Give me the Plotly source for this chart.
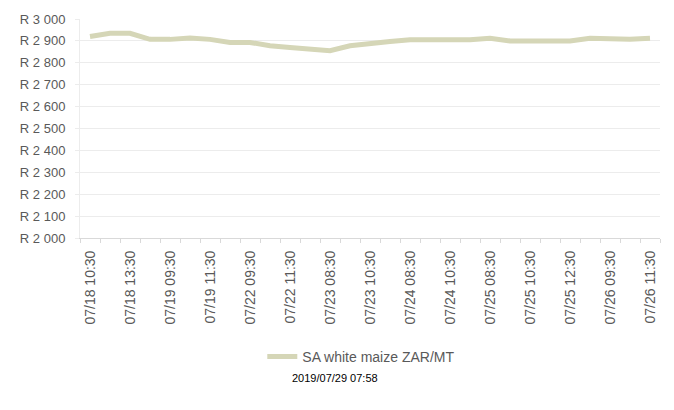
import plotly.graph_objects as go

categories = [
    "07/18 10:30", "07/18 12:00", "07/18 13:30", "07/19 08:30", "07/19 09:30",
    "07/19 10:30", "07/19 11:30", "07/22 08:30", "07/22 09:30", "07/22 10:30",
    "07/22 11:30", "07/22 12:30", "07/23 08:30", "07/23 09:30", "07/23 10:30",
    "07/23 11:30", "07/24 08:30", "07/24 09:30", "07/24 10:30", "07/24 11:30",
    "07/25 08:30", "07/25 09:30", "07/25 10:30", "07/25 11:30", "07/25 12:30",
    "07/26 08:30", "07/26 09:30", "07/26 10:30", "07/26 11:30",
]
values = [
    2920, 2935, 2935, 2907, 2907, 2913, 2907, 2893, 2893, 2878,
    2870, 2863, 2855, 2878, 2890, 2897, 2905, 2905, 2905, 2905,
    2912, 2900, 2900, 2900, 2900, 2912, 2907, 2907, 2912,
]
series_name = "SA white maize ZAR/MT"
y_ticks = [2000, 2100, 2200, 2300, 2400, 2500, 2600, 2700, 2800, 2900, 3000]
y_ticktext = ["R 2 000", "R 2 100", "R 2 200", "R 2 300", "R 2 400", "R 2 500",
              "R 2 600", "R 2 700", "R 2 800", "R 2 900", "R 3 000"]
footer = "2019/07/29 07:58"

idx = list(range(len(categories)))
label_idx = idx[::2]

fig = go.Figure()
fig.add_trace(go.Scatter(
    x=idx, y=values, mode="lines", name=series_name,
    line=dict(color="#d5d6b7", width=5),
))

grid = "#ececec"
fig.update_layout(
    width=674, height=410,
    margin=dict(l=80, r=14, t=17, b=172),
    paper_bgcolor="white", plot_bgcolor="white",
    showlegend=True,
    legend=dict(orientation="h", x=0.485, xanchor="center", y=-0.47, yanchor="top",
                font=dict(family="Liberation Sans, sans-serif",
                          size=14, color="#595959")),
    xaxis=dict(
        range=[-0.5, len(categories) - 0.5],
        tickmode="array", tickvals=label_idx,
        ticktext=[categories[i] for i in label_idx],
        tickangle=-90, ticks="", ticklabelstandoff=6,
        tickfont=dict(family="Liberation Sans, Arial, sans-serif", size=14, color="#595959"),
        showgrid=False, zeroline=False,
        showline=True, linecolor="#d9d9d9", linewidth=1,
        minor=dict(ticks="outside", tick0=-0.5, dtick=1, ticklen=4,
                   tickcolor="#d9d9d9", showgrid=False),
    ),
    yaxis=dict(
        range=[2000, 3000],
        tickmode="array", tickvals=y_ticks, ticktext=y_ticktext,
        tickfont=dict(family="Liberation Sans, sans-serif",
                      size=13, color="#595959"),
        showgrid=True, gridcolor=grid, gridwidth=1,
        ticks="outside", ticklen=4, tickcolor=grid, ticklabelstandoff=7,
        showline=True, linecolor=grid, zeroline=False,
    ),
    annotations=[dict(text=footer, xref="paper", yref="paper", x=0.44, y=-0.64,
                      xanchor="center", yanchor="middle", showarrow=False,
                      font=dict(family="Liberation Sans, Arial, sans-serif", size=11,
                                color="#000000"))],
)

fig.write_html("out.html")
